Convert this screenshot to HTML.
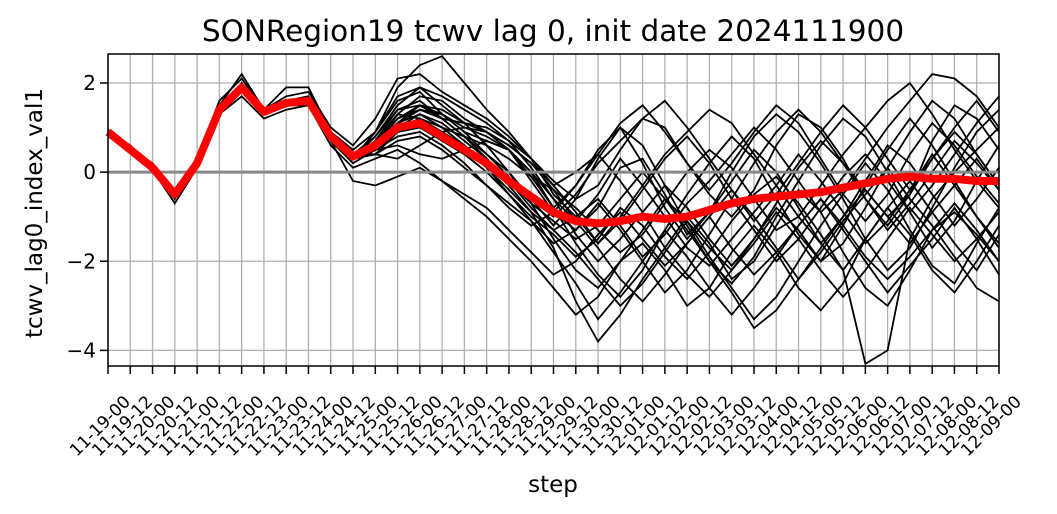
<!DOCTYPE html>
<html><head><meta charset="utf-8"><style>
body{margin:0;background:#fff;}
svg{display:block;font-family:"DejaVu Sans","Liberation Sans",sans-serif;}
</style></head><body>
<svg id="chart" width="1057" height="514">
<text x="553" y="41" text-anchor="middle" font-size="29.5">SONRegion19 tcwv lag 0, init date 2024111900</text>
<text transform="translate(42,213) rotate(-90)" text-anchor="middle" font-size="23">tcwv_lag0_index_val1</text>
<text x="553" y="492" text-anchor="middle" font-size="23">step</text>
<g id="grid"></g><g id="members"></g><g id="mean"></g><g id="axes"></g>
</svg>
<script>
const tickLabels=["11-19-00","11-19-12","11-20-00","11-20-12","11-21-00","11-21-12","11-22-00","11-22-12","11-23-00","11-23-12","11-24-00","11-24-12","11-25-00","11-25-12","11-26-00","11-26-12","11-27-00","11-27-12","11-28-00","11-28-12","11-29-00","11-29-12","11-30-00","11-30-12","12-01-00","12-01-12","12-02-00","12-02-12","12-03-00","12-03-12","12-04-00","12-04-12","12-05-00","12-05-12","12-06-00","12-06-12","12-07-00","12-07-12","12-08-00","12-08-12","12-09-00"];
const yTicks=[2,0,-2,-4];
const meanValues=[0.9,0.5,0.1,-0.5,0.2,1.4,1.9,1.35,1.55,1.6,0.8,0.35,0.6,1.0,1.1,0.8,0.5,0.2,-0.2,-0.55,-0.9,-1.1,-1.15,-1.1,-1.0,-1.05,-1.0,-0.85,-0.7,-0.6,-0.55,-0.5,-0.45,-0.35,-0.25,-0.15,-0.1,-0.15,-0.15,-0.2,-0.2];
const m1=[0.95,0.55,0.15,-0.6,0.3,1.6,2.1,1.4,1.7,1.8,1.0,0.6,1.2,2.1,2.2,1.8,1.5,1.2,0.8,0.3,-0.2,-0.6,-0.3,0.5,1.2,1.0,0.2,-0.5,-1.0,-0.4,0.6,1.3,1.0,0.3,-0.6,-1.2,-0.5,0.7,1.5,1.2,0.5];
const m2=[0.85,0.45,0.05,-0.7,0.1,1.3,1.7,1.2,1.4,1.5,0.6,0.1,0.3,0.5,0.2,-0.2,-0.6,-1.0,-1.5,-2.0,-2.6,-3.2,-2.8,-2.0,-1.6,-2.2,-3.0,-2.6,-1.8,-1.2,-1.8,-2.6,-3.1,-2.5,-1.5,-0.8,-1.4,-2.2,-2.7,-2.0,-1.2];
const m3=[0.9,0.5,0.1,-0.5,0.3,1.5,1.9,1.3,1.6,1.7,0.9,0.5,0.9,1.6,1.8,1.3,0.9,0.7,0.5,0.0,-0.8,-1.6,-2.3,-2.8,-2.2,-1.3,-0.5,0.2,0.8,0.3,-0.6,-1.4,-2.0,-1.6,-0.8,0.1,0.9,1.6,1.2,0.4,-0.3];
const m4=[0.9,0.5,0.1,-0.4,0.2,1.4,1.8,1.4,1.5,1.6,0.7,0.2,0.5,0.8,0.9,0.6,0.2,-0.3,-0.8,-1.2,-0.9,-0.3,0.5,1.0,0.6,-0.3,-1.2,-2.0,-2.5,-1.9,-1.0,-0.2,0.6,1.2,0.8,0.0,-0.9,-1.7,-1.1,-0.2,0.6];
const m5=[0.8,0.5,0.2,-0.5,0.2,1.3,1.8,1.3,1.5,1.5,0.8,0.3,0.6,1.2,1.5,1.4,1.1,0.6,0.0,-0.7,-1.5,-2.2,-2.6,-2.0,-1.3,-0.6,-1.1,-1.9,-2.6,-3.3,-2.8,-2.0,-1.2,-0.5,0.2,-0.4,-1.3,-2.1,-2.5,-1.6,-0.8];
const m6=[0.9,0.6,0.1,-0.5,0.2,1.4,2.0,1.3,1.6,1.6,0.8,0.4,0.4,0.3,0.6,0.9,1.0,0.9,0.5,-0.2,-0.9,-1.3,-0.8,0.1,0.3,-0.5,-1.4,-0.9,0.0,0.8,1.3,0.9,0.2,-0.6,-1.5,-2.2,-1.7,-0.8,0.1,0.9,1.4];
const m7=[0.9,0.5,0.1,-0.5,0.2,1.4,1.9,1.4,1.5,1.6,0.8,0.3,0.7,1.3,1.2,0.9,0.6,0.2,-0.3,-0.9,-1.7,-2.9,-3.8,-3.2,-2.4,-1.7,-1.0,-1.6,-2.4,-2.0,-1.2,-0.4,-0.9,-1.8,-2.6,-3.0,-2.2,-1.3,-0.7,-1.3,-2.0];
const m8=[0.9,0.5,0.1,-0.5,0.2,1.4,1.9,1.3,1.6,1.6,0.8,0.4,0.8,1.4,1.6,1.2,0.8,0.6,0.3,-0.1,-0.4,-0.8,-1.3,-1.8,-1.4,-0.7,0.0,0.5,0.1,-0.6,-1.3,-1.0,-0.3,0.4,1.0,1.6,2.0,1.3,0.5,-0.2,-0.8];
const m9=[0.9,0.5,0.1,-0.5,0.2,1.4,1.9,1.3,1.5,1.6,0.8,0.3,0.5,0.9,1.0,0.7,0.4,0.0,-0.5,-1.0,-1.4,-1.9,-1.5,-0.8,-1.2,-1.9,-2.4,-1.8,-1.1,-0.5,-0.1,-0.7,-1.4,-2.2,-4.3,-4.0,-1.5,-0.6,0.0,0.5,1.0];
const m10=[0.9,0.5,0.1,-0.5,0.2,1.4,1.9,1.3,1.5,1.6,0.8,0.3,0.6,1.0,1.2,1.0,0.8,0.4,0.0,-0.6,-1.2,-0.6,0.3,1.0,0.2,-0.8,-1.5,-0.9,-0.2,0.5,0.0,-0.8,-1.6,-1.0,-0.2,0.6,0.2,-0.5,-1.2,-0.6,0.1];
const m11=[0.9,0.5,0.1,-0.5,0.2,1.4,1.9,1.3,1.5,1.6,0.8,0.3,0.4,0.7,0.8,0.5,0.1,-0.3,-0.7,-1.1,-1.6,-1.3,-0.7,-1.3,-2.0,-2.7,-2.2,-1.4,-0.6,0.2,0.9,1.4,0.9,0.2,-0.4,-1.0,-0.5,0.3,0.9,0.4,-0.3];
const m12=[0.9,0.5,0.1,-0.5,0.2,1.4,1.9,1.3,1.5,1.6,0.8,0.3,0.9,1.7,1.9,1.5,1.1,0.9,0.6,0.2,-0.3,0.0,0.4,-0.2,-0.9,-1.7,-2.3,-2.8,-2.2,-1.5,-0.8,-1.3,-2.0,-1.2,-0.3,0.5,1.2,0.6,-0.2,-1.0,-1.6];
const m13=[0.9,0.5,0.1,-0.5,0.2,1.4,1.9,1.3,1.5,1.6,0.8,0.3,0.5,0.6,0.4,0.3,0.5,0.7,0.5,0.0,-0.6,-1.1,-1.7,-2.4,-2.9,-2.3,-1.6,-1.0,-0.4,-1.0,-1.7,-2.4,-1.8,-1.1,-0.5,0.1,-0.6,-1.2,-1.9,-2.6,-2.9];
const m14=[0.9,0.5,0.1,-0.5,0.2,1.4,1.9,1.3,1.5,1.6,0.8,0.3,0.7,1.1,1.3,1.1,0.7,0.3,-0.2,-0.8,-1.3,-1.0,-1.6,-1.1,-0.4,0.3,0.8,0.2,-0.6,-1.3,-2.0,-1.5,-0.8,-0.1,0.4,-0.2,-0.9,-0.3,0.4,1.1,1.7];
const m15=[0.9,0.5,0.1,-0.5,0.2,1.4,1.9,1.3,1.5,1.6,0.8,0.3,0.6,1.1,1.4,1.3,0.9,0.4,-0.1,-0.6,-1.0,-0.5,0.2,0.7,1.2,1.6,1.0,0.3,-0.4,-1.1,-0.5,0.2,0.9,1.5,1.0,0.3,-0.4,0.3,1.0,1.6,0.9];
const m16=[0.9,0.5,0.1,-0.5,0.2,1.4,1.9,1.3,1.5,1.6,0.8,0.3,0.4,0.9,1.1,0.8,0.5,0.1,-0.4,-0.9,-1.3,-1.8,-2.4,-3.0,-2.5,-1.8,-1.1,-1.7,-2.2,-1.6,-0.9,-1.5,-2.2,-2.8,-2.2,-1.5,-0.8,-1.4,-2.0,-1.5,-0.9];
const m17=[0.9,0.5,0.1,-0.6,0.2,1.5,2.2,1.4,1.9,1.9,0.9,0.3,0.9,1.9,2.4,2.6,2.0,1.4,0.9,0.3,-0.5,-1.0,-0.6,-1.2,-1.9,-1.4,-0.7,-0.2,0.4,1.0,0.5,-0.2,-0.9,-0.4,0.3,1.0,1.6,2.2,2.1,1.7,1.0];
const m18=[0.9,0.5,0.1,-0.5,0.2,1.4,1.9,1.3,1.5,1.6,0.7,-0.2,-0.3,-0.1,0.1,-0.2,-0.5,-0.8,-1.3,-1.8,-2.3,-2.0,-1.4,-0.9,-1.5,-2.1,-1.6,-1.0,-1.7,-2.3,-1.8,-1.2,-0.6,-1.2,-1.9,-2.4,-1.9,-1.3,-0.9,-1.4,-2.0];
const m19=[0.9,0.5,0.1,-0.5,0.2,1.4,1.9,1.3,1.5,1.6,0.8,0.3,0.8,1.5,1.9,1.7,1.4,1.1,0.7,0.1,-0.6,-1.4,-2.0,-1.5,-0.9,-0.3,-0.8,-1.5,-2.1,-1.5,-0.7,0.1,0.7,0.2,-0.6,-1.3,-0.7,0.0,0.7,0.2,-0.4];
const m20=[0.9,0.5,0.1,-0.5,0.2,1.4,1.9,1.3,1.5,1.6,0.8,0.3,0.6,1.3,1.7,1.6,1.2,0.9,0.6,0.2,-0.4,-1.1,-0.5,0.3,-0.3,-1.0,-1.7,-2.1,-1.5,-0.9,-0.3,0.4,-0.2,-0.9,-1.6,-1.1,-0.4,0.4,-0.3,-1.0,-1.7];
const m21=[0.9,0.5,0.1,-0.5,0.2,1.4,1.9,1.3,1.5,1.6,0.8,0.3,0.5,1.0,1.3,1.0,0.6,0.1,-0.5,-1.1,-1.8,-2.5,-3.3,-2.7,-2.0,-1.3,-1.9,-2.6,-3.2,-2.6,-1.9,-1.2,-0.6,-1.3,-2.0,-2.7,-2.1,-1.5,-0.8,-1.5,-2.3];
const m22=[0.9,0.5,0.1,-0.5,0.2,1.4,1.9,1.3,1.5,1.6,0.8,0.3,0.7,1.4,1.5,1.3,1.0,0.8,0.5,-0.1,-0.8,-0.3,0.4,1.1,1.5,0.9,0.2,-0.4,0.2,0.9,1.5,1.1,0.3,-0.5,-1.1,-0.5,0.4,1.1,0.6,-0.1,-0.7];
const m23=[0.9,0.5,0.1,-0.5,0.2,1.4,1.9,1.3,1.5,1.6,0.8,0.3,0.5,1.1,1.5,1.2,0.8,0.3,-0.2,-0.7,-1.1,-1.5,-1.2,-0.6,0.0,-0.6,-1.3,-2.0,-2.7,-3.5,-3.1,-2.4,-1.7,-1.0,-0.4,-1.0,-1.6,-0.9,-0.3,0.3,-0.4];
const m24=[0.9,0.5,0.1,-0.5,0.2,1.4,1.9,1.3,1.5,1.6,0.8,0.3,0.7,1.2,1.4,1.2,1.1,1.0,0.7,0.3,-0.3,-0.9,-1.6,-1.0,-0.3,0.4,0.9,1.4,1.1,0.4,-0.3,-1.0,-1.6,-2.2,-1.5,-0.8,-0.2,-0.9,-1.6,-2.2,-1.4];
const members=[m1,m2,m3,m4,m5,m6,m7,m8,m9,m10,m11,m12,m13,m14,m15,m16,m17,m18,m19,m20,m21,m22,m23,m24];

const L=108,R=999,T=54,B=366,ymin=-4.35,ymax=2.65;
const xs=i=>L+(R-L)*i/(tickLabels.length-1);
const ys=v=>B-(v-ymin)/(ymax-ymin)*(B-T);
const NS="http://www.w3.org/2000/svg";
function mk(tag,parent){const e=document.createElementNS(NS,tag);parent.appendChild(e);return e;}
const grid=document.getElementById('grid'),mg=document.getElementById('members'),meanG=document.getElementById('mean'),ax=document.getElementById('axes');
tickLabels.forEach((lab,i)=>{
 const x=xs(i);
 const g=mk('line',grid);g.setAttribute('x1',x);g.setAttribute('x2',x);g.setAttribute('y1',T);g.setAttribute('y2',B);g.setAttribute('stroke','#b0b0b0');g.setAttribute('stroke-width','1.3');
 
 
 const t=mk('line',ax);t.setAttribute('x1',x);t.setAttribute('x2',x);t.setAttribute('y1',B);t.setAttribute('y2',B+8);t.setAttribute('stroke','#000');t.setAttribute('stroke-width','1.5');
 
 
 const tx=mk('text',ax);tx.textContent=lab;tx.setAttribute('font-size','17');tx.setAttribute('text-anchor','middle');
 tx.setAttribute('transform',`translate(${x-4},${B+64}) rotate(-45)`);
 
 
});
yTicks.forEach(v=>{
 const y=ys(v);
 const g=mk('line',grid);g.setAttribute('x1',L);g.setAttribute('x2',R);g.setAttribute('y1',y);g.setAttribute('y2',y);g.setAttribute('stroke','#b0b0b0');g.setAttribute('stroke-width','1.3');
 
 
 const t=mk('line',ax);t.setAttribute('x1',L-8);t.setAttribute('x2',L);t.setAttribute('y1',y);t.setAttribute('y2',y);t.setAttribute('stroke','#000');t.setAttribute('stroke-width','1.5');
 
 
 const tx=mk('text',ax);tx.textContent=(v<0?'\u2212':'')+Math.abs(v);tx.setAttribute('font-size','20');tx.setAttribute('text-anchor','end');tx.setAttribute('x',L-12);tx.setAttribute('y',y+7);
 
 
});
const pts=a=>a.map((v,i)=>xs(i).toFixed(1)+','+ys(v).toFixed(1)).join(' ');
members.forEach(m=>{
 const p=mk('polyline',mg);p.setAttribute('points',pts(m));p.setAttribute('fill','none');p.setAttribute('stroke','#000');p.setAttribute('stroke-width','1.8');
 
 
});
const z=mk('line',meanG);z.setAttribute('x1',L);z.setAttribute('x2',R);z.setAttribute('y1',ys(0));z.setAttribute('y2',ys(0));z.setAttribute('stroke','#888');z.setAttribute('stroke-width','3');


const mp=mk('polyline',meanG);mp.setAttribute('points',pts(meanValues));mp.setAttribute('fill','none');mp.setAttribute('stroke','#ff0000');mp.setAttribute('stroke-width','8');mp.setAttribute('stroke-linejoin','round');


const fr=mk('rect',ax);fr.setAttribute('x',L);fr.setAttribute('y',T);fr.setAttribute('width',R-L);fr.setAttribute('height',B-T);fr.setAttribute('fill','none');fr.setAttribute('stroke','#000');fr.setAttribute('stroke-width','1.5');


</script>
</body></html>
